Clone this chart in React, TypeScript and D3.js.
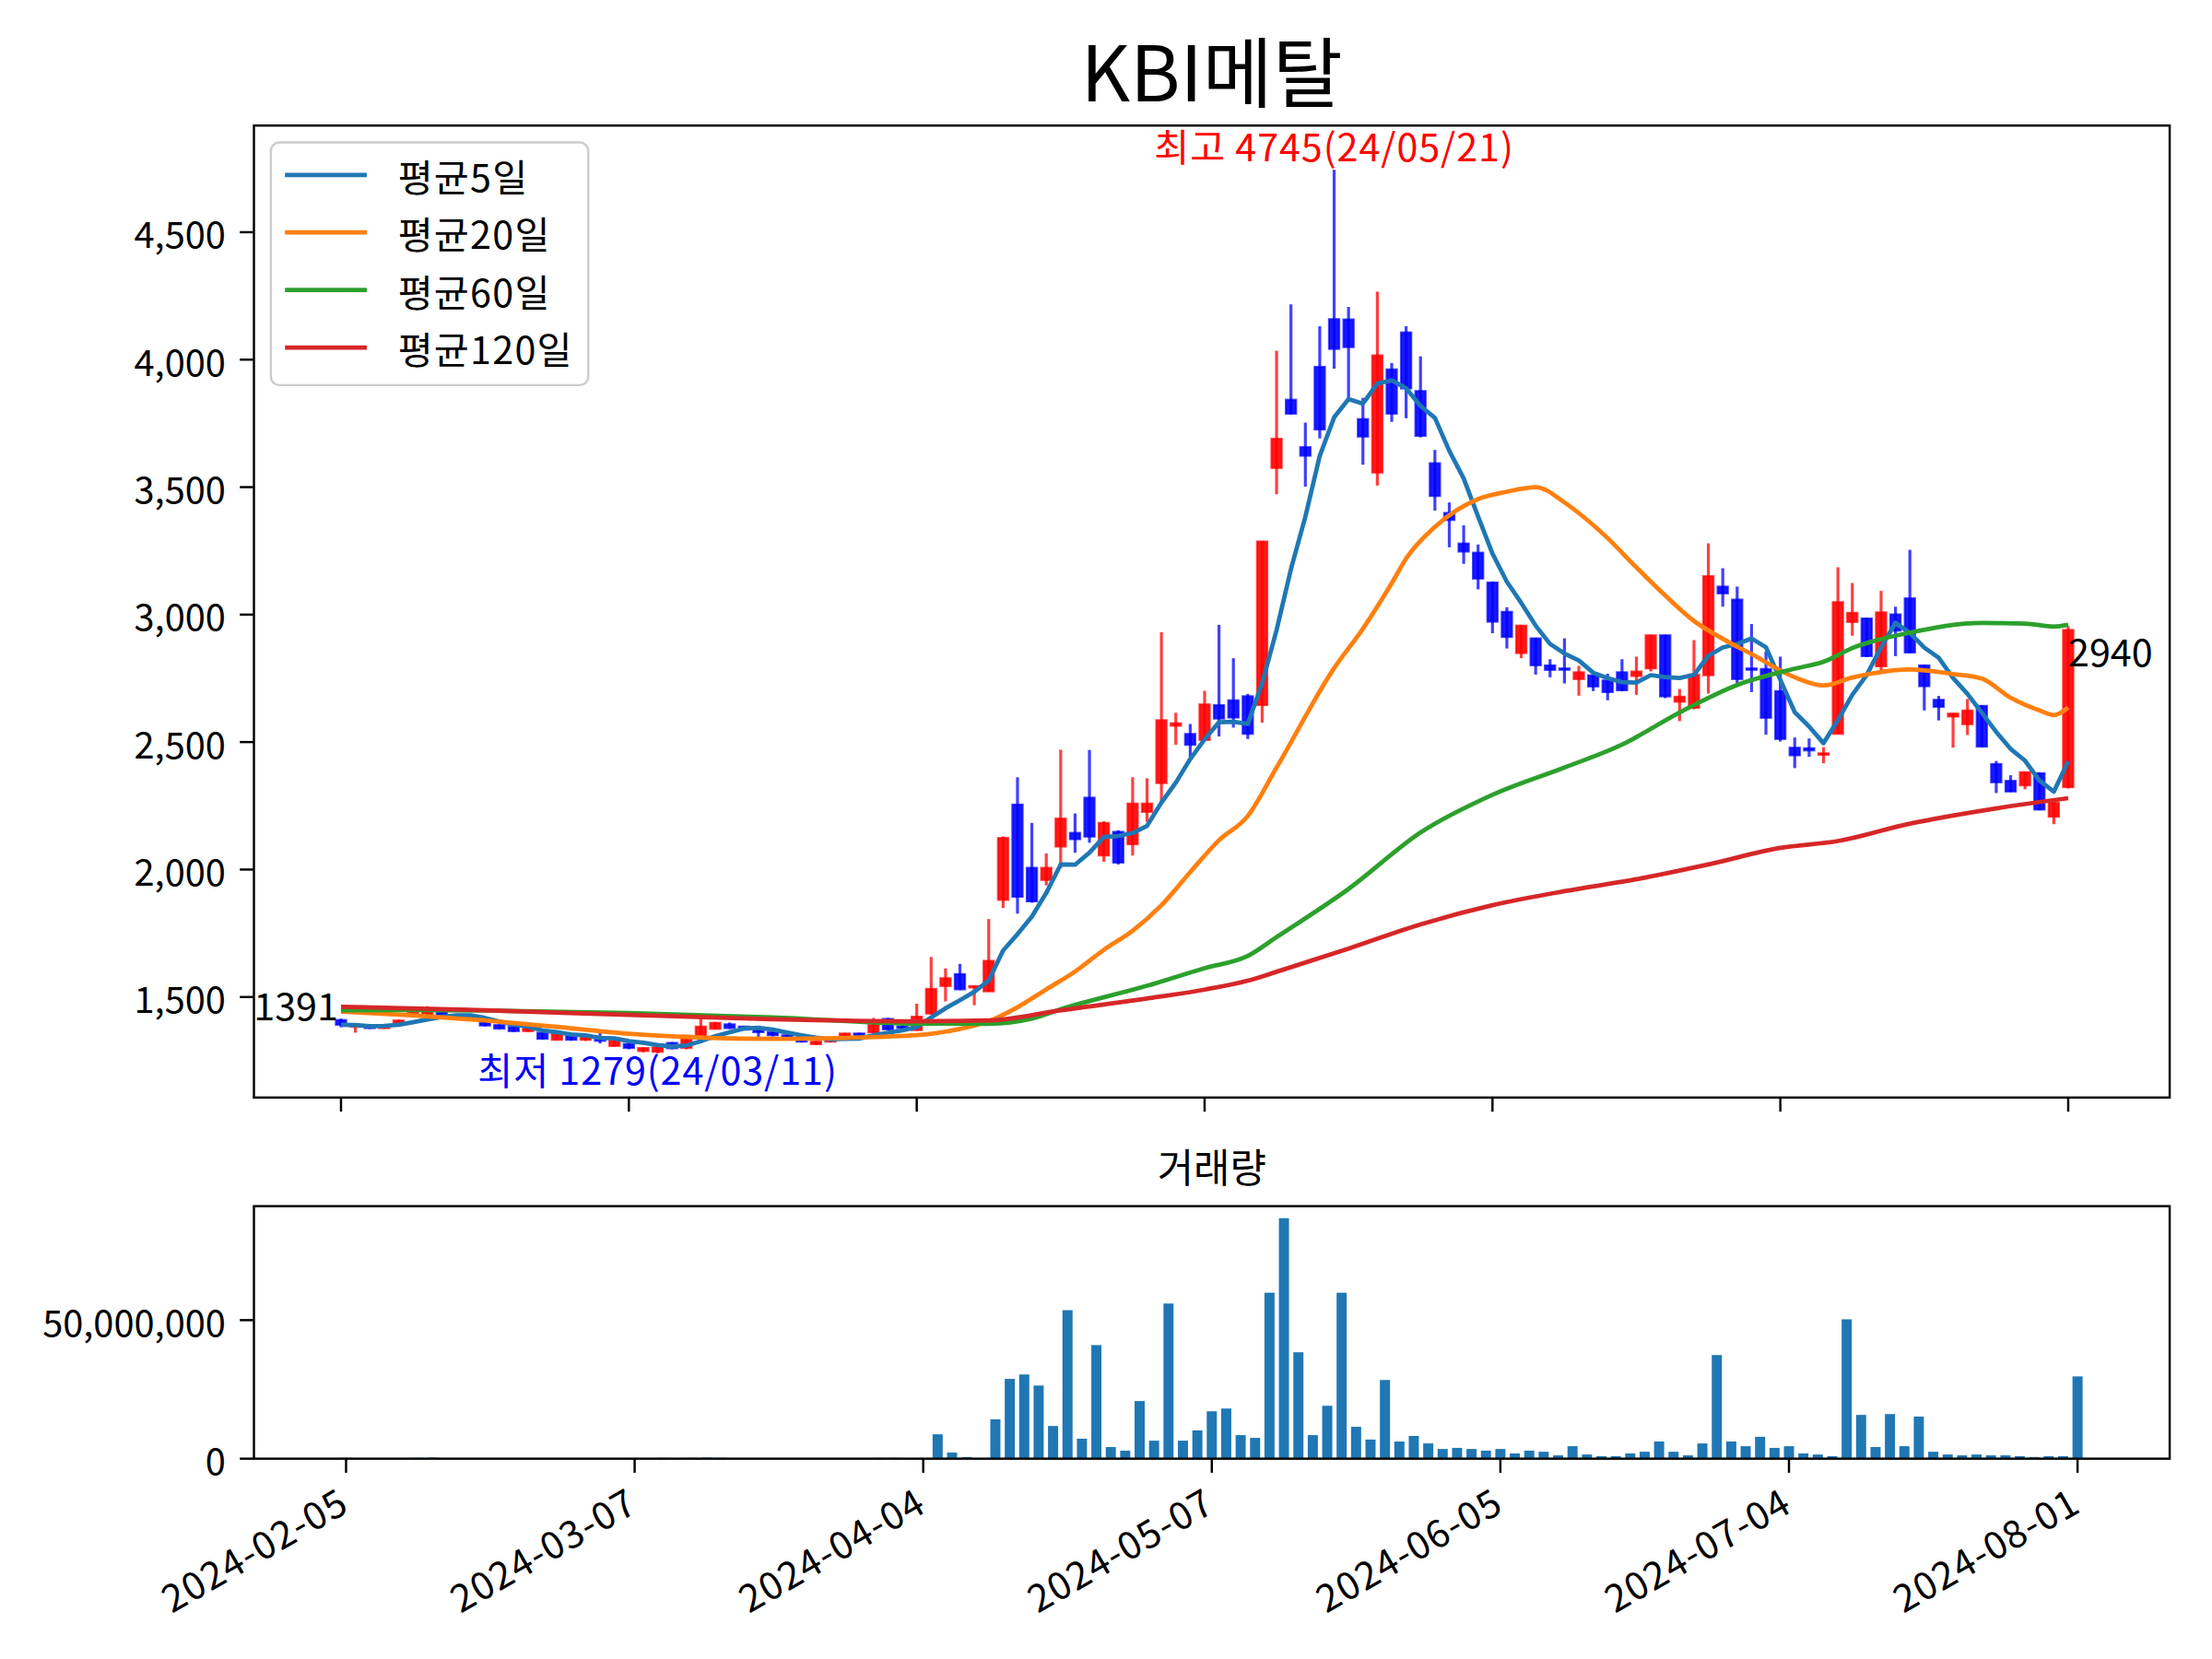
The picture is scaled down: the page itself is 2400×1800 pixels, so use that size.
import React, { useRef, useEffect } from "react";
import * as d3 from "d3";

const TITLE = "KBI메탈";
const VOLUME_TITLE = "거래량";

// x ticks: trading-day index and date label
const tickIndex = [0, 20, 40, 60, 80, 100, 120];
const tickLabels = ["2024-02-05", "2024-03-07", "2024-04-04", "2024-05-07", "2024-06-05", "2024-07-04", "2024-08-01"];
const priceTicks = [1500, 2000, 2500, 3000, 3500, 4000, 4500];
const volumeTicks = [0, 50000000];

// daily candles, 2024-02-05 .. 2024-08-01 (121 trading days)
const opens = [
  1410, 1384, 1390, 1378, 1399, 1426, 1428, 1440, 1427, 1419, 1400, 1390, 1383, 1366, 1360, 1332, 1348, 1332, 1340, 1308,
  1316, 1288, 1285, 1320, 1300, 1348, 1375, 1393, 1384, 1373, 1362, 1350, 1333, 1315, 1325, 1346, 1357, 1361, 1414, 1385,
  1370, 1435, 1543, 1590, 1538, 1522, 1881, 2255, 2007, 1959, 2090, 2144, 2282, 2055, 2148, 2099, 2226, 2339, 2564, 2532,
  2508, 2645, 2664, 2680, 2645, 3575, 3843, 3657, 3972, 4159, 4158, 3767, 3557, 3962, 4107, 3877, 3594, 3399, 3279, 3243,
  3126, 3011, 2849, 2907, 2801, 2789, 2747, 2762, 2742, 2774, 2759, 2789, 2919, 2658, 2634, 2762, 3110, 3059, 2789, 2787,
  2700, 2478, 2476, 2450, 2532, 2971, 2985, 2797, 3001, 3064, 2801, 2666, 2600, 2570, 2642, 2414, 2348, 2330, 2378, 2207,
  2323,
];
const highs = [
  1415, 1391, 1392, 1392, 1411, 1447, 1464, 1444, 1431, 1423, 1403, 1393, 1385, 1380, 1363, 1357, 1351, 1351, 1366, 1331,
  1319, 1303, 1306, 1323, 1351, 1428, 1402, 1400, 1387, 1376, 1365, 1353, 1336, 1328, 1335, 1359, 1360, 1418, 1418, 1390,
  1474, 1657, 1612, 1630, 1545, 1806, 2130, 2362, 2183, 2063, 2470, 2220, 2469, 2189, 2154, 2362, 2358, 2931, 2615, 2571,
  2701, 2960, 2829, 2689, 3287, 4035, 4217, 3753, 4131, 4745, 4207, 3850, 4267, 3987, 4131, 4013, 3646, 3440, 3350, 3275,
  3130, 3029, 2959, 2909, 2825, 2907, 2799, 2764, 2768, 2825, 2835, 2921, 2921, 2708, 2900, 3280, 3182, 3110, 2963, 2855,
  2835, 2518, 2514, 2480, 3186, 3124, 2988, 3093, 3031, 3254, 2803, 2681, 2614, 2669, 2645, 2426, 2370, 2383, 2381, 2265,
  2955,
];
const lows = [
  1381, 1360, 1375, 1375, 1395, 1423, 1425, 1425, 1415, 1405, 1385, 1373, 1363, 1363, 1333, 1330, 1329, 1328, 1318, 1305,
  1295, 1283, 1279, 1295, 1295, 1345, 1373, 1375, 1369, 1340, 1345, 1335, 1322, 1312, 1322, 1342, 1342, 1358, 1370, 1374,
  1368, 1430, 1483, 1527, 1468, 1520, 1849, 1827, 1870, 1938, 2005, 2066, 2105, 2031, 2020, 2055, 2187, 2265, 2489, 2440,
  2504, 2522, 2557, 2512, 2576, 3472, 3785, 3502, 3691, 3965, 3852, 3588, 3506, 3756, 3770, 3695, 3408, 3264, 3199, 3099,
  2927, 2867, 2829, 2765, 2754, 2730, 2682, 2700, 2664, 2700, 2685, 2777, 2672, 2582, 2629, 2690, 3031, 2718, 2696, 2529,
  2502, 2398, 2442, 2417, 2532, 2917, 2833, 2779, 2837, 2849, 2624, 2585, 2478, 2528, 2480, 2300, 2304, 2315, 2233, 2178,
  2318,
];
const closes = [
  1391, 1389, 1378, 1390, 1408, 1440, 1444, 1428, 1419, 1411, 1388, 1376, 1366, 1378, 1336, 1354, 1332, 1348, 1328, 1328,
  1300, 1300, 1303, 1299, 1348, 1384, 1399, 1378, 1372, 1362, 1350, 1340, 1325, 1325, 1332, 1357, 1346, 1391, 1373, 1378,
  1423, 1532, 1574, 1530, 1543, 1642, 2124, 1893, 1875, 2007, 2200, 2119, 2129, 2183, 2027, 2259, 2259, 2586, 2574, 2489,
  2648, 2592, 2596, 2532, 3287, 3690, 3788, 3623, 3726, 4042, 4049, 3698, 4017, 3788, 3887, 3701, 3465, 3371, 3247, 3141,
  2972, 2912, 2957, 2801, 2783, 2784, 2774, 2718, 2696, 2703, 2777, 2919, 2679, 2678, 2765, 3151, 3083, 2747, 2784, 2595,
  2512, 2448, 2467, 2456, 3049, 3007, 2837, 3009, 2937, 2851, 2719, 2638, 2612, 2624, 2482, 2342, 2306, 2382, 2235, 2262,
  2940,
];
// volume in millions of shares
const volumesM = [
  0.3, 0.2, 0.2, 0.1, 0.2, 0.3, 0.4, 0.2, 0.1, 0.1, 0.2, 0.1, 0.2, 0.1, 0.2, 0.2, 0.1, 0.1, 0.2, 0.2,
  0.2, 0.2, 0.3, 0.2, 0.3, 0.4, 0.3, 0.2, 0.1, 0.2, 0.1, 0.1, 0.1, 0.1, 0.1, 0.2, 0.1, 0.3, 0.3, 0.1,
  0.2, 8.8, 2.2, 0.6, 0.2, 14.2, 28.8, 30.4, 26.4, 11.8, 53.6, 7.2, 41.0, 4.2, 2.9, 20.8, 6.5, 56.0, 6.5, 10.2,
  17.1, 18.1, 8.5, 7.5, 59.9, 86.8, 38.4, 8.5, 19.1, 59.9, 11.5, 6.9, 28.4, 6.2, 8.2, 5.5, 3.5, 3.9, 3.5, 2.9,
  3.5, 1.9, 2.9, 2.5, 1.2, 4.5, 1.5, 0.9, 0.9, 1.9, 2.5, 6.2, 2.5, 1.2, 5.5, 37.4, 6.2, 4.5, 7.9, 3.9,
  4.5, 1.9, 1.5, 0.9, 50.3, 15.8, 4.2, 16.1, 4.5, 15.2, 2.5, 1.5, 1.2, 1.5, 1.2, 1.2, 0.9, 0.6, 0.9, 0.9,
  29.7,
];

// longer moving averages: [day index, value]
const ma20: [number, number][] = [
  [0, 1443], [5, 1428], [10, 1408], [15, 1383], [20, 1356], [25, 1341], [30, 1336], [35, 1340], [40, 1350], [43, 1375],
  [45, 1405], [47, 1460], [49, 1530], [51, 1600], [53, 1685], [55, 1760], [57, 1860], [59, 1990], [61, 2115], [63, 2210],
  [65, 2400], [69, 2790], [71, 2945], [73, 3123], [74, 3220], [76, 3344], [79, 3453], [81, 3482], [83, 3500], [85, 3440],
  [86, 3398], [88, 3300], [90, 3185], [92, 3075], [94, 2975], [96, 2905], [98, 2845], [101, 2754], [103, 2722], [105, 2753],
  [109, 2785], [112, 2767], [114, 2749], [116, 2674], [118, 2624], [119, 2606], [120, 2636],
];
const ma60: [number, number][] = [
  [0, 1448], [5, 1449], [10, 1447], [20, 1437], [30, 1420], [40, 1396], [45, 1395], [48, 1415], [50, 1452], [56, 1544],
  [60, 1613], [63, 1661], [65, 1735], [70, 1924], [75, 2145], [80, 2293], [85, 2400], [89, 2490], [93, 2616], [97, 2724],
  [101, 2788], [103, 2815], [105, 2869], [109, 2929], [114, 2967], [117, 2965], [119, 2953], [120, 2960],
];
const ma120: [number, number][] = [
  [0, 1462], [10, 1448], [20, 1430], [30, 1413], [40, 1405], [45, 1408], [50, 1448], [56, 1494], [60, 1529], [63, 1564],
  [65, 1599], [70, 1690], [75, 1785], [80, 1860], [85, 1915], [90, 1962], [95, 2020], [100, 2085], [104, 2112], [109, 2180],
  [115, 2240], [120, 2280],
];

const maNames = ["평균5일", "평균20일", "평균60일", "평균120일"];
const maColors = ["#1f77b4", "#ff7f0e", "#2ca02c", "#d62728"];

const highLabel = "최고 4745(24/05/21)";
const lowLabel = "최저 1279(24/03/11)";

const W = 1568;
const H = 1176;
const FONT = "'Noto Sans CJK KR', 'Noto Sans', sans-serif";

export default function App() {
  const svgRef = useRef<SVGSVGElement>(null);

  useEffect(() => {
    if (!svgRef.current) return;
    const svg = d3.select(svgRef.current);
    svg.selectAll("*").remove();

    const n = closes.length;
    const main = { left: 180, right: 1538, top: 89, bottom: 778 };
    const vol = { left: 180, right: 1538, top: 855, bottom: 1034 };

    // matplotlib-like 5% margins
    const x = d3.scaleLinear().domain([-0.05 * n, n * 1.05]).range([main.left, main.right]);
    const lo = d3.min(lows)!;
    const hi = d3.max(highs)!;
    const pad = (hi - lo) * 0.05;
    const y = d3.scaleLinear().domain([lo - pad, hi + pad]).range([main.bottom, main.top]);

    const barW = 0.7;
    const vlo = -barW / 2;
    const vhi = n - 1 + barW / 2;
    const vpad = (vhi - vlo) * 0.05;
    const vx = d3.scaleLinear().domain([vlo - vpad, vhi + vpad]).range([vol.left, vol.right]);
    const volumes = volumesM.map((v) => v * 1e6);
    const vy = d3.scaleLinear().domain([0, d3.max(volumes)! * 1.05]).range([vol.bottom, vol.top]);

    svg.append("rect").attr("width", W).attr("height", H).attr("fill", "#fff");

    // title
    svg.append("text")
      .attr("x", (main.left + main.right) / 2)
      .attr("y", 72)
      .attr("text-anchor", "middle")
      .attr("font-size", 54)
      .attr("font-family", FONT)
      .text(TITLE);

    // candles
    const idx = d3.range(n);
    const candleColor = (i: number) => (closes[i] >= opens[i] ? "#ff0000" : "#0000ff");
    const bodyW = x(0.72) - x(0);
    const candles = svg.append("g");
    candles.selectAll("line")
      .data(idx)
      .join("line")
      .attr("x1", (i) => x(i))
      .attr("x2", (i) => x(i))
      .attr("y1", (i) => y(highs[i]))
      .attr("y2", (i) => y(lows[i]))
      .attr("stroke", candleColor)
      .attr("stroke-opacity", 0.75)
      .attr("stroke-width", 2.1);
    candles.selectAll("rect")
      .data(idx)
      .join("rect")
      .attr("x", (i) => x(i) - bodyW / 2)
      .attr("y", (i) => y(Math.max(opens[i], closes[i])))
      .attr("width", bodyW)
      .attr("height", (i) => Math.max(1, Math.abs(y(opens[i]) - y(closes[i]))))
      .attr("fill", candleColor)
      .attr("fill-opacity", 0.9)
      .attr("stroke", candleColor)
      .attr("stroke-opacity", 0.7)
      .attr("stroke-width", 1.4);

    // moving averages
    const ma5 = closes.map((_, i) => d3.mean(closes.slice(Math.max(0, i - 4), i + 1))!);
    const straight = d3.line<number>().x((_, i) => x(i)).y((d) => y(d));
    const smooth = d3.line<[number, number]>().x((d) => x(d[0])).y((d) => y(d[1])).curve(d3.curveMonotoneX);
    const maGroup = svg.append("g").attr("fill", "none").attr("stroke-width", 3.1).attr("stroke-linejoin", "round");
    maGroup.append("path").attr("d", straight(ma5)).attr("stroke", maColors[0]);
    maGroup.append("path").attr("d", smooth(ma20)).attr("stroke", maColors[1]);
    maGroup.append("path").attr("d", smooth(ma60)).attr("stroke", maColors[2]);
    maGroup.append("path").attr("d", smooth(ma120)).attr("stroke", maColors[3]);

    // annotations
    const hiIdx = highs.indexOf(hi);
    const loIdx = lows.indexOf(lo);
    const ann = svg.append("g").attr("font-family", FONT).attr("font-size", 27);
    ann.append("text").attr("x", x(hiIdx)).attr("y", y(hi) - 6).attr("text-anchor", "middle")
      .attr("fill", "#ff0000").attr("letter-spacing", 0.6).text(highLabel);
    ann.append("text").attr("x", x(loIdx)).attr("y", y(lo) + 22).attr("text-anchor", "middle")
      .attr("fill", "#0000ff").attr("letter-spacing", 0.6).text(lowLabel);
    ann.append("text").attr("x", x(0) - 2).attr("y", y(closes[0]) - 3).attr("text-anchor", "end")
      .text(String(closes[0]));
    ann.append("text").attr("x", x(n - 1)).attr("y", y(closes[n - 1]) + 26).attr("text-anchor", "start")
      .text(String(closes[n - 1]));

    // volume bars
    svg.append("g")
      .selectAll("rect")
      .data(idx)
      .join("rect")
      .attr("x", (i) => vx(i - barW / 2))
      .attr("width", vx(barW) - vx(0))
      .attr("y", (i) => vy(volumes[i]))
      .attr("height", (i) => vy(0) - vy(volumes[i]))
      .attr("fill", "#1f77b4");

    // axes frames
    const fmt = d3.format(",");
    const axes = svg.append("g").attr("font-family", FONT).attr("font-size", 26);
    [main, vol].forEach((b) => {
      axes.append("rect")
        .attr("x", b.left).attr("y", b.top)
        .attr("width", b.right - b.left).attr("height", b.bottom - b.top)
        .attr("fill", "none").attr("stroke", "#000").attr("stroke-width", 1.6);
    });

    // y ticks
    priceTicks.forEach((v) => {
      axes.append("line").attr("x1", main.left - 10).attr("x2", main.left)
        .attr("y1", y(v)).attr("y2", y(v)).attr("stroke", "#000").attr("stroke-width", 1.6);
      axes.append("text").attr("x", main.left - 20).attr("y", y(v)).attr("text-anchor", "end")
        .attr("dominant-baseline", "central").text(fmt(v));
    });
    volumeTicks.forEach((v) => {
      axes.append("line").attr("x1", vol.left - 10).attr("x2", vol.left)
        .attr("y1", vy(v)).attr("y2", vy(v)).attr("stroke", "#000").attr("stroke-width", 1.6);
      axes.append("text").attr("x", vol.left - 20).attr("y", vy(v)).attr("text-anchor", "end")
        .attr("dominant-baseline", "central").text(fmt(v));
    });

    // x ticks
    tickIndex.forEach((t, k) => {
      axes.append("line").attr("x1", x(t)).attr("x2", x(t))
        .attr("y1", main.bottom).attr("y2", main.bottom + 10).attr("stroke", "#000").attr("stroke-width", 1.6);
      axes.append("line").attr("x1", vx(t)).attr("x2", vx(t))
        .attr("y1", vol.bottom).attr("y2", vol.bottom + 10).attr("stroke", "#000").attr("stroke-width", 1.6);
      axes.append("text")
        .attr("transform", `translate(${vx(t) - 9},${vol.bottom + 15}) rotate(-30)`)
        .attr("text-anchor", "end")
        .attr("dominant-baseline", "hanging")
        .attr("font-size", 27)
        .attr("letter-spacing", 0.8)
        .text(tickLabels[k]);
    });

    axes.append("text")
      .attr("x", (vol.left + vol.right) / 2)
      .attr("y", 838)
      .attr("text-anchor", "middle")
      .attr("font-size", 28)
      .text(VOLUME_TITLE);

    // legend
    const legend = svg.append("g").attr("font-family", FONT).attr("font-size", 27);
    legend.append("rect")
      .attr("x", 192).attr("y", 101).attr("width", 225).attr("height", 172).attr("rx", 6)
      .attr("fill", "#fff").attr("fill-opacity", 0.8)
      .attr("stroke", "#cccccc").attr("stroke-width", 1.6);
    maNames.forEach((name, k) => {
      const ly = 124 + k * 40.8;
      legend.append("line").attr("x1", 202).attr("x2", 260).attr("y1", ly).attr("y2", ly)
        .attr("stroke", maColors[k]).attr("stroke-width", 3.1);
      legend.append("text").attr("x", 282).attr("y", ly).attr("dominant-baseline", "central")
        .attr("letter-spacing", 0.8).text(name);
    });
  }, []);

  return (
    <div style={{ position: "absolute", left: 0, top: 0 }}>
      <svg ref={svgRef} width={2400} height={1800} viewBox={`0 0 ${W} ${H}`} style={{ display: "block" }} />
    </div>
  );
}
